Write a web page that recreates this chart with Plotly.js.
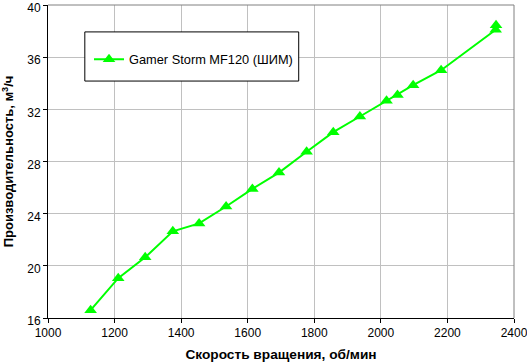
<!DOCTYPE html>
<html><head><meta charset="utf-8">
<script src="https://cdn.plot.ly/plotly-3.0.1.min.js"></script>
<style>body{margin:0;padding:0;background:#fff}#chart{width:527px;height:363px}</style>
</head><body><div id="chart"></div>
<script>
const seriesName = "Gamer Storm MF120 (ШИМ)";
const speed = [1128, 1211, 1292, 1375, 1454, 1535, 1614, 1694, 1777, 1857, 1937, 2017, 2050, 2097, 2181, 2345, 2346];
const flow = [16.6, 19.05, 20.65, 22.65, 23.25, 24.55, 25.9, 27.15, 28.75, 30.25, 31.45, 32.65, 33.1, 33.85, 35.0, 38.1, 38.45];
const xTicks = [1000, 1200, 1400, 1600, 1800, 2000, 2200, 2400];
const yTicks = [16, 20, 24, 28, 32, 36, 40];
const xTitle = "Скорость вращения, об/мин";
const yTitle = "Производительность, м<sup>3</sup>/ч";

const font = "Liberation Sans, Arial, sans-serif";
const trace = {
  x: speed, y: flow, name: seriesName, type: "scatter", mode: "lines+markers",
  line: {color: "#00ff00", width: 2},
  marker: {symbol: "triangle-up", size: 11, color: "#00ff00"}
};
const layout = {
  width: 527, height: 363,
  margin: {l: 48, r: 13, t: 5, b: 45},
  paper_bgcolor: "#fff", plot_bgcolor: "#fff",
  font: {family: font, size: 12, color: "#000"},
  showlegend: true,
  legend: {x: 0.088, y: 0.826, xanchor: "left", yanchor: "middle", bgcolor: "rgba(0,0,0,0)", borderwidth: 0, font: {family: font, size: 12.8, color: "#000"}},
  xaxis: {range: [1000, 2400], tickvals: xTicks, ticktext: xTicks.map(String), showgrid: true, gridcolor: "#c0c0c0", gridwidth: 1,
    showline: true, linecolor: "#000", linewidth: 1, ticks: "outside", ticklen: 4, tickcolor: "#000", zeroline: false, mirror: false,
    ticklabeloverflow: "allow",
    title: {text: xTitle, font: {family: font, size: 13.7, weight: "bold"}, standoff: 10}, fixedrange: true},
  yaxis: {range: [16, 40], tickvals: yTicks, ticktext: yTicks.map(String), showgrid: true, gridcolor: "#c0c0c0", gridwidth: 1,
    showline: true, linecolor: "#000", linewidth: 1, ticks: "outside", ticklen: 4, tickcolor: "#000", zeroline: false,
    ticklabeloverflow: "allow", ticklabelshift: 3,
    title: {text: yTitle, font: {family: font, size: 13, weight: "bold"}, standoff: 11}, fixedrange: true},
  shapes: [
    {type: "line", xref: "paper", yref: "paper", x0: 0, x1: 1, y0: 1, y1: 1, line: {color: "#808080", width: 1}},
    {type: "line", xref: "paper", yref: "paper", x0: 1, x1: 1, y0: 0, y1: 1, line: {color: "#808080", width: 1}},
    {type: "rect", xref: "paper", yref: "paper", x0: 0.079, x1: 0.538, y0: 0.757, y1: 0.914, line: {color: "#000", width: 1}, fillcolor: "rgba(255,255,255,1)", layer: "above"}
  ]
};
Plotly.newPlot("chart", [trace], layout, {staticPlot: true, displayModeBar: false});
</script></body></html>
